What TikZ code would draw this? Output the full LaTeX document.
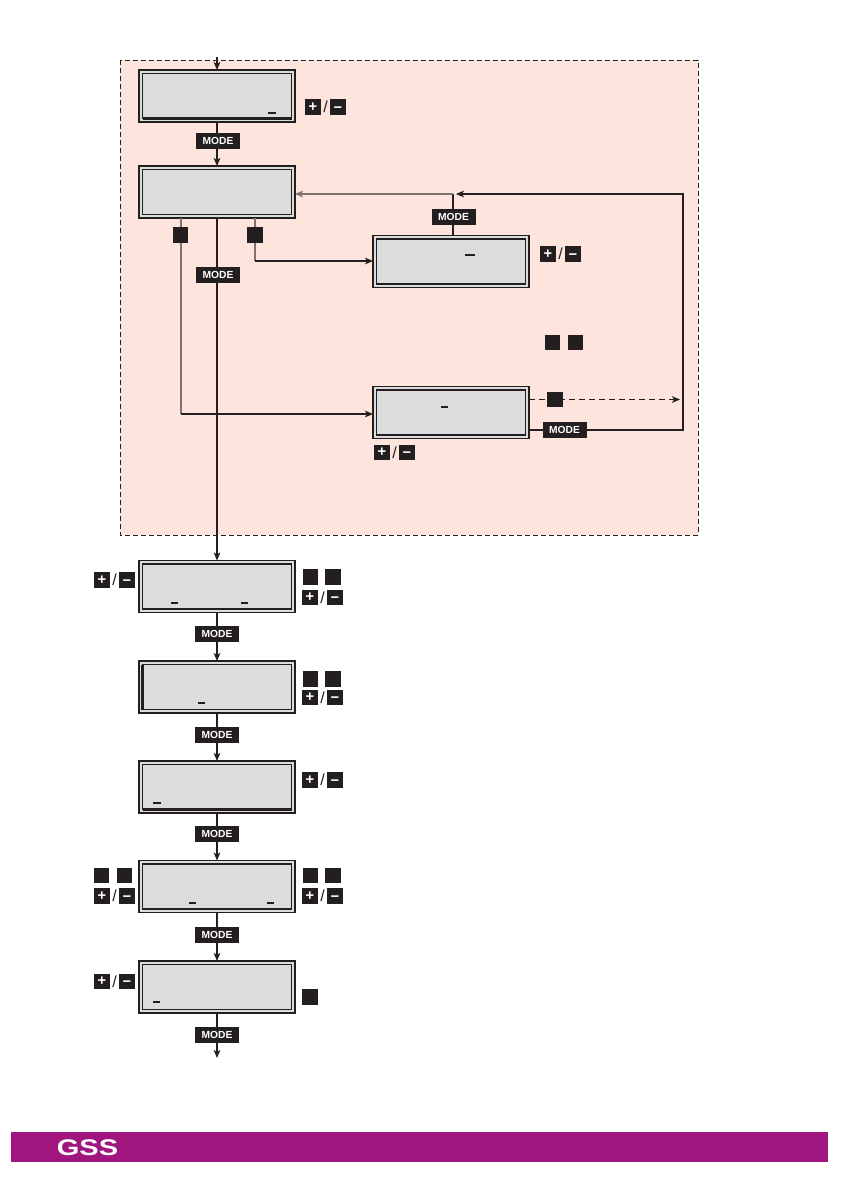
\documentclass[tikz,border=0pt]{standalone}
\usepackage{fontspec}
\setmainfont{Liberation Sans}
\usetikzlibrary{calc,arrows.meta}
\definecolor{pinkbg}{HTML}{FDE4DC}
\definecolor{lcdgray}{HTML}{DCDCDC}
\definecolor{ink}{HTML}{231F20}
\definecolor{wire}{HTML}{7D7270}
\definecolor{gsspurple}{HTML}{A0157E}
\newcommand\lcdunit[3]{%
  \node[lcdbox] (#1) at (#2,#3) {};
  \draw[lcdin] ($(#1.south west)+(3.5,-3.5)$) rectangle ($(#1.north east)+(-3.5,3.5)$);
}
\newcommand\pmkeys[3]{%
  \node[pmsq] (#1p) at (#2+8,#3) {+};
  \node[slashtxt] (#1s) at (#2+20.5,#3) {/};
  \node[pmsq, text height=0.78em] (#1m) at (#2+33,#3) {−};
}
\begin{document}
\begin{tikzpicture}[x=0.75pt,y=-0.75pt,
  lcdbox/.style={draw=ink, fill=lcdgray, line width=1pt, minimum width=117pt, minimum height=39pt, inner sep=0pt, outer sep=0pt},
  lcdin/.style={draw=ink, line width=1pt},
  thickside/.style={draw=ink, line width=1.8pt},
  modekey/.style={fill=ink, text=white, font=\bfseries\fontsize{7.7}{8}\selectfont, minimum width=33pt, minimum height=12pt, inner sep=0pt},
  sq/.style={fill=ink, minimum size=11.7pt, inner sep=0pt},
  pmsq/.style={fill=ink, text=white, minimum size=11.5pt, inner sep=0pt, text height=0.66em, text depth=0pt, font=\bfseries\fontsize{11}{11}\selectfont},
  slashtxt/.style={text=ink, inner sep=0pt, font=\fontsize{12}{12}\selectfont},
  conn/.style={draw=ink, line width=0.85pt},
  wirec/.style={draw=wire, line width=0.85pt},
  arr/.style={conn, -{Stealth[length=6pt,width=5pt,inset=1.5pt]}},
  cursor/.style={draw=ink, line width=1.2pt}
]
\useasboundingbox (0,0) rectangle (840,1192);
% region
\draw[ink, fill=pinkbg, line width=0.75pt, dash pattern=on 3.6pt off 2.4pt] (120,60) rectangle (698,535);

% LCD boxes
\lcdunit{b1}{217}{96}
\lcdunit{b2}{217}{192}
\lcdunit{b3}{451}{261.5}
\lcdunit{b4}{451}{412.5}
\lcdunit{b5}{217}{586.5}
\lcdunit{b6}{217}{687}
\lcdunit{b7}{217}{787}
\lcdunit{b8}{217}{886.5}
\lcdunit{b9}{217}{987}
\draw[thickside] ($(b1.south west)+(3.5,-3.5)$) -- ($(b1.south east)+(-3.5,-3.5)$);
\draw[thickside] ($(b3.north west)+(3.5,3.5)$) -- ($(b3.north east)+(-3.5,3.5)$);
\draw[thickside] ($(b6.north west)+(3.5,3.5)$) -- ($(b6.south west)+(3.5,-3.5)$);
\draw[thickside] ($(b7.south west)+(3.5,-3.5)$) -- ($(b7.south east)+(-3.5,-3.5)$);

% cursors
\draw[cursor] (268,113) -- (276,113);
\draw[cursor] (465,255) -- (475,255);
\draw[cursor] (441,407) -- (448,407);
\draw[cursor] (171,603) -- (178,603);
\draw[cursor] (241,603) -- (248,603);
\draw[cursor] (198,703) -- (205,703);
\draw[cursor] (153,803) -- (161,803);
\draw[cursor] (189,903) -- (196,903);
\draw[cursor] (267,903) -- (274,903);
\draw[cursor] (153,1002) -- (160,1002);

% coordinates
\coordinate (ent) at (217,57);
\coordinate (c4) at (181,414);
\coordinate (c3) at (255,261);
\coordinate (j1) at (453,194);
\coordinate (j1t) at (456,194);
\coordinate (r1) at (683,430);
\coordinate (r2) at (683,194);
\coordinate (d1) at (680,399.5);
\coordinate (exit) at (217,1058);

% connectors
\draw[arr] (ent) -- (b1.north);
\draw[arr] (b1.south) -- (b2.north);
\draw[wirec] ($(b2.south)+(-36,0)$) -- (c4);
\draw[arr] (c4) -- (c4 -| b4.west);
\draw[wirec] ($(b2.south)+(38,0)$) -- (c3);
\draw[arr] (c3) -- (c3 -| b3.west);
\draw[arr] (b2.south) -- (b5.north);
\draw[conn] ($(b3.north)+(2,0)$) -- (j1);
\draw[arr, draw=wire] (j1) -- (j1 -| b2.east);
\draw[arr] (r1 -| b4.east) -- (r1) -- (r2) -- (j1t);
\draw[arr, dash pattern=on 4.5pt off 3pt] (d1 -| b4.east) -- (d1);
\draw[arr] (b5.south) -- (b6.north);
\draw[arr] (b6.south) -- (b7.north);
\draw[arr] (b7.south) -- (b8.north);
\draw[arr] (b8.south) -- (b9.north);
\draw[arr] (b9.south) -- (exit);

% MODE keys
\node[modekey] (m1) at (218,141) {MODE};
\node[modekey] (m2) at (218,275) {MODE};
\node[modekey] (m3) at (453.5,217) {MODE};
\node[modekey] (m4) at (564.5,430) {MODE};
\node[modekey] (m5) at (217,634) {MODE};
\node[modekey] (m6) at (217,734.5) {MODE};
\node[modekey] (m7) at (217,834) {MODE};
\node[modekey] (m8) at (217,934.5) {MODE};
\node[modekey] (m9) at (217,1034.5) {MODE};

% black squares
\node[sq] (s1) at (180.5,235) {};
\node[sq] (s2) at (255,235) {};
\node[sq] (s3) at (552.5,342.5) {};
\node[sq] (s4) at (575.5,342.5) {};
\node[sq] (s5) at (555,399.5) {};
\node[sq] (s6) at (310.5,577) {};
\node[sq] (s7) at (333,577) {};
\node[sq] (s8) at (310.5,679) {};
\node[sq] (s9) at (333,679) {};
\node[sq] (s10) at (101.5,875.5) {};
\node[sq] (s11) at (124.5,875.5) {};
\node[sq] (s12) at (310.5,875.5) {};
\node[sq] (s13) at (333,875.5) {};
\node[sq] (s14) at (310,997) {};

% +/- keys
\pmkeys{k1}{305}{107}
\pmkeys{k2}{540}{254}
\pmkeys{k3}{374}{452.5}
\pmkeys{k4}{94}{580}
\pmkeys{k5}{302}{597.5}
\pmkeys{k6}{302}{697.5}
\pmkeys{k7}{302}{780}
\pmkeys{k8}{94}{896}
\pmkeys{k9}{302}{896}
\pmkeys{k10}{94}{981.5}

% footer
\fill[gsspurple] (11,1132) rectangle (828,1162);
\node[text=white, font=\bfseries\fontsize{17}{17}\selectfont, inner sep=0pt] (gss) at (87.5,1147.5) {\scalebox{1.28}[1]{GSS}};
\end{tikzpicture}
\end{document}
